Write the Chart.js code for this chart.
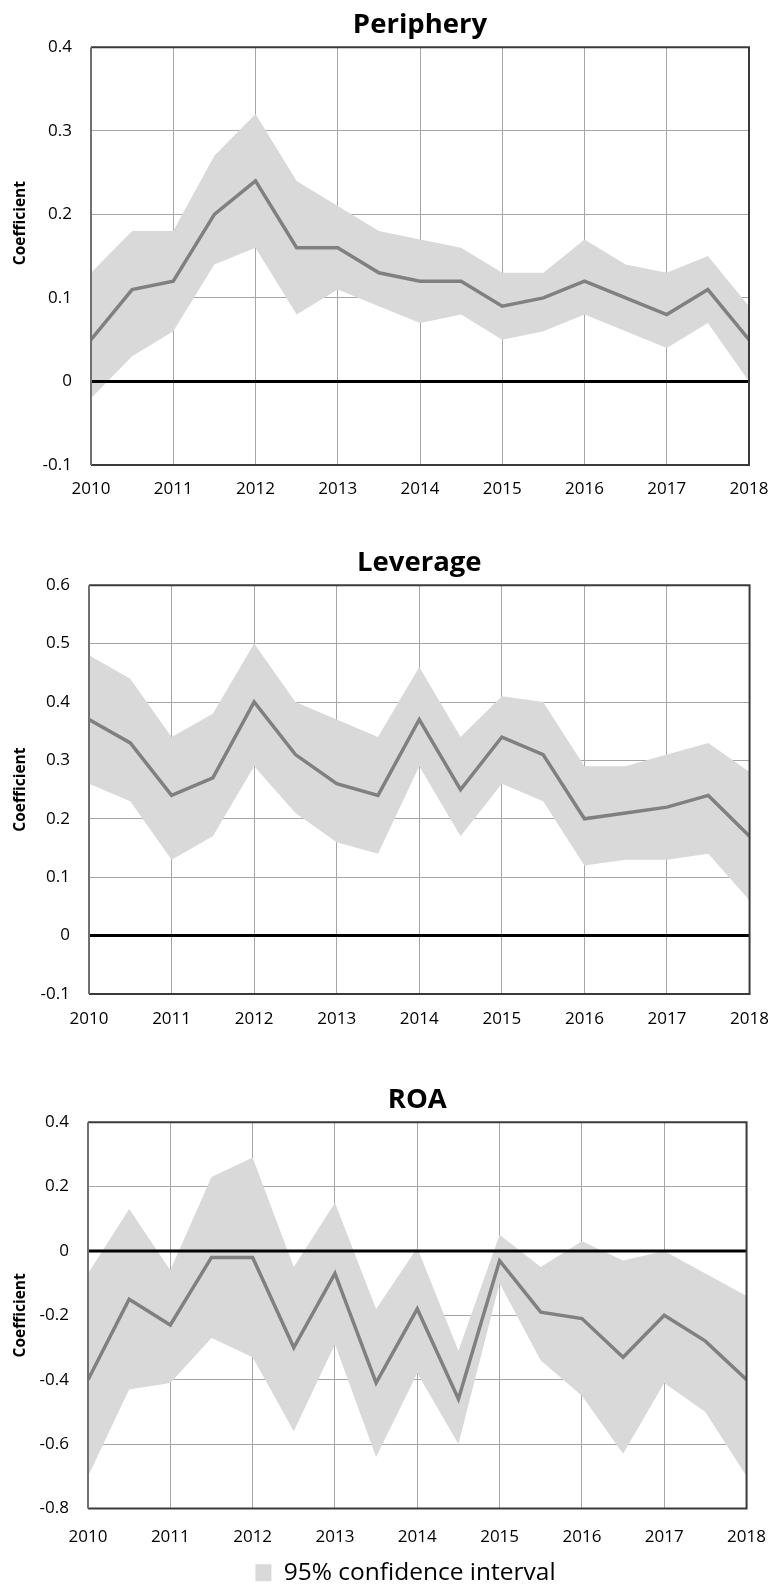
<!DOCTYPE html>
<html>
<head>
<meta charset="utf-8">
<script src="https://cdn.jsdelivr.net/npm/chart.js@4.4.1/dist/chart.umd.min.js"></script>
<style>
  body { margin: 0; background: #fff; }
  #page { position: relative; width: 784px; height: 1585px; overflow: hidden; }
  .box { position: absolute; left: 0; width: 784px; }
</style>
</head>
<body>
<div id="page">
  <div class="box" id="box1" style="top:0px;height:505px"><canvas id="periphery"></canvas></div>
  <div class="box" id="box2" style="top:538px;height:496px"><canvas id="leverage"></canvas></div>
  <div class="box" id="box3" style="top:1075px;height:520px"><canvas id="roa"></canvas></div>
</div>
<script>
// half-year steps, 2010 .. 2018
const periods = [2010, 2010.5, 2011, 2011.5, 2012, 2012.5, 2013, 2013.5, 2014, 2014.5, 2015, 2015.5, 2016, 2016.5, 2017, 2017.5, 2018];

const peripheryCoef  = [0.05, 0.11, 0.12, 0.20, 0.24, 0.16, 0.16, 0.13, 0.12, 0.12, 0.09, 0.10, 0.12, 0.10, 0.08, 0.11, 0.05];
const peripheryUpper = [0.13, 0.18, 0.18, 0.27, 0.32, 0.24, 0.21, 0.18, 0.17, 0.16, 0.13, 0.13, 0.17, 0.14, 0.13, 0.15, 0.09];
const peripheryLower = [-0.02, 0.03, 0.06, 0.14, 0.16, 0.08, 0.11, 0.09, 0.07, 0.08, 0.05, 0.06, 0.08, 0.06, 0.04, 0.07, 0.00];

const leverageCoef  = [0.37, 0.33, 0.24, 0.27, 0.40, 0.31, 0.26, 0.24, 0.37, 0.25, 0.34, 0.31, 0.20, 0.21, 0.22, 0.24, 0.17];
const leverageUpper = [0.48, 0.44, 0.34, 0.38, 0.50, 0.40, 0.37, 0.34, 0.46, 0.34, 0.41, 0.40, 0.29, 0.29, 0.31, 0.33, 0.28];
const leverageLower = [0.26, 0.23, 0.13, 0.17, 0.29, 0.21, 0.16, 0.14, 0.29, 0.17, 0.26, 0.23, 0.12, 0.13, 0.13, 0.14, 0.06];

const roaCoef  = [-0.40, -0.15, -0.23, -0.02, -0.02, -0.30, -0.07, -0.41, -0.18, -0.46, -0.03, -0.19, -0.21, -0.33, -0.20, -0.28, -0.40];
const roaUpper = [-0.07, 0.13, -0.06, 0.23, 0.29, -0.05, 0.15, -0.18, 0.01, -0.31, 0.05, -0.05, 0.03, -0.03, 0.00, -0.07, -0.14];
const roaLower = [-0.70, -0.43, -0.41, -0.27, -0.33, -0.56, -0.29, -0.64, -0.38, -0.60, -0.10, -0.34, -0.45, -0.63, -0.41, -0.50, -0.70];

const xTicks = { min: 2010, max: 2018, step: 1 };
const yAxisLabel = 'Coefficient';
const bandLabel = '95% confidence interval';

Chart.defaults.font.family = '"Open Sans", sans-serif';
Chart.defaults.color = '#000';

function points(values) {
    return periods.map((p, i) => ({ x: p, y: values[i] }));
}

// zero line and plot frame go on top of the band
const frame = {
    id: 'frame',
    afterDatasetsDraw(chart) {
        const { ctx, chartArea: a, scales } = chart;
        const y0 = scales.y.getPixelForValue(0);
        ctx.save();
        ctx.lineWidth = 3;
        ctx.strokeStyle = '#000';
        ctx.beginPath();
        ctx.moveTo(a.left, y0);
        ctx.lineTo(a.right, y0);
        ctx.stroke();
        ctx.lineWidth = 2;
        ctx.strokeStyle = '#3a3a3a';
        ctx.beginPath();
        ctx.moveTo(a.left, a.top);
        ctx.lineTo(a.right, a.top);
        ctx.lineTo(a.right, a.bottom);
        ctx.lineTo(a.left, a.bottom);
        ctx.stroke();
        ctx.strokeStyle = '#707070';
        ctx.beginPath();
        ctx.moveTo(a.left, a.top);
        ctx.lineTo(a.left, a.bottom);
        ctx.stroke();
        ctx.restore();
    }
};

const sideLabel = {
    id: 'sideLabel',
    afterDraw(chart, args, opts) {
        const { ctx, chartArea: a } = chart;
        ctx.save();
        ctx.translate(opts.x, (a.top + a.bottom) / 2 + (opts.shift || 0));
        ctx.rotate(-Math.PI / 2);
        ctx.font = 'bold 15.5px "Open Sans", sans-serif';
        ctx.fillStyle = '#000';
        ctx.textAlign = 'center';
        ctx.textBaseline = 'middle';
        ctx.fillText(opts.text, 0, 0);
        ctx.restore();
    }
};

// nudge the legend sideways (excel centres it a bit right of the canvas middle)
const legendShift = {
    id: 'legendShift',
    afterLayout(chart, args, opts) {
        if (chart.legend && opts.dx) {
            chart.legend.left += opts.dx;
            chart.legend.right += opts.dx;
        }
    }
};

function makeChart(id, title, coef, upper, lower, yMin, yMax, yStep, lay) {
    return new Chart(document.getElementById(id), {
        type: 'line',
        data: {
            datasets: [
                {
                    label: 'Coefficient',
                    data: points(coef),
                    borderColor: '#808080',
                    borderWidth: 3.5,
                    pointRadius: 0,
                    fill: false
                },
                {
                    label: bandLabel,
                    data: points(upper),
                    borderWidth: 0,
                    borderColor: '#d9d9d9',
                    backgroundColor: '#d9d9d9',
                    pointRadius: 0,
                    fill: '+1'
                },
                {
                    label: 'lower',
                    data: points(lower),
                    borderWidth: 0,
                    borderColor: '#d9d9d9',
                    pointRadius: 0,
                    fill: false
                }
            ]
        },
        options: {
            responsive: true,
            maintainAspectRatio: false,
            animation: false,
            layout: { padding: { left: 0, right: lay.padRight, top: 0, bottom: 0 } },
            plugins: {
                title: {
                    display: true,
                    fullSize: false,
                    text: title,
                    color: '#000',
                    font: { size: 27.5, weight: 'bold' },
                    padding: { top: 9, bottom: 5.2 }
                },
                legend: {
                    display: lay.legend,
                    position: 'bottom',
                    labels: {
                        filter: item => item.datasetIndex === 1,
                        boxWidth: 16,
                        boxHeight: 17,
                        padding: 6,
                        font: { size: 24.5 },
                        color: '#000'
                    }
                },
                legendShift: { dx: lay.legendDx },
                tooltip: { enabled: false },
                sideLabel: { text: yAxisLabel, x: 21, shift: lay.labelShift }
            },
            scales: {
                x: {
                    type: 'linear',
                    min: xTicks.min,
                    max: xTicks.max,
                    border: { display: false },
                    grid: { color: '#a6a6a6', lineWidth: 1, drawTicks: false },
                    ticks: {
                        stepSize: xTicks.step,
                        padding: lay.xPad,
                        font: { size: 17 },
                        color: '#000',
                        callback: v => String(v)
                    },
                    afterFit: s => { s.height = lay.xHeight; }
                },
                y: {
                    min: yMin,
                    max: yMax,
                    border: { display: false },
                    grid: { color: '#a6a6a6', lineWidth: 1, drawTicks: false },
                    ticks: {
                        stepSize: yStep,
                        padding: 19,
                        font: { size: 17 },
                        color: '#000',
                        callback: v => String(+v.toFixed(1))
                    },
                    afterFit: s => { s.width = lay.yWidth; }
                }
            }
        },
        plugins: [frame, sideLabel, legendShift]
    });
}

makeChart('periphery', 'Periphery', peripheryCoef, peripheryUpper, peripheryLower, -0.1, 0.4, 0.1,
    { padRight: 35, yWidth: 91, xHeight: 40, xPad: 14, legend: false, legendDx: 0, labelShift: -33 });
makeChart('leverage', 'Leverage', leverageCoef, leverageUpper, leverageLower, -0.1, 0.6, 0.1,
    { padRight: 27, yWidth: 89, xHeight: 40, xPad: 15, legend: false, legendDx: 0, labelShift: 0 });
makeChart('roa', 'ROA', roaCoef, roaUpper, roaLower, -0.8, 0.4, 0.2,
    { padRight: 21, yWidth: 88, xHeight: 46, xPad: 18, legend: true, legendDx: 24, labelShift: 0 });
</script>
</body>
</html>
